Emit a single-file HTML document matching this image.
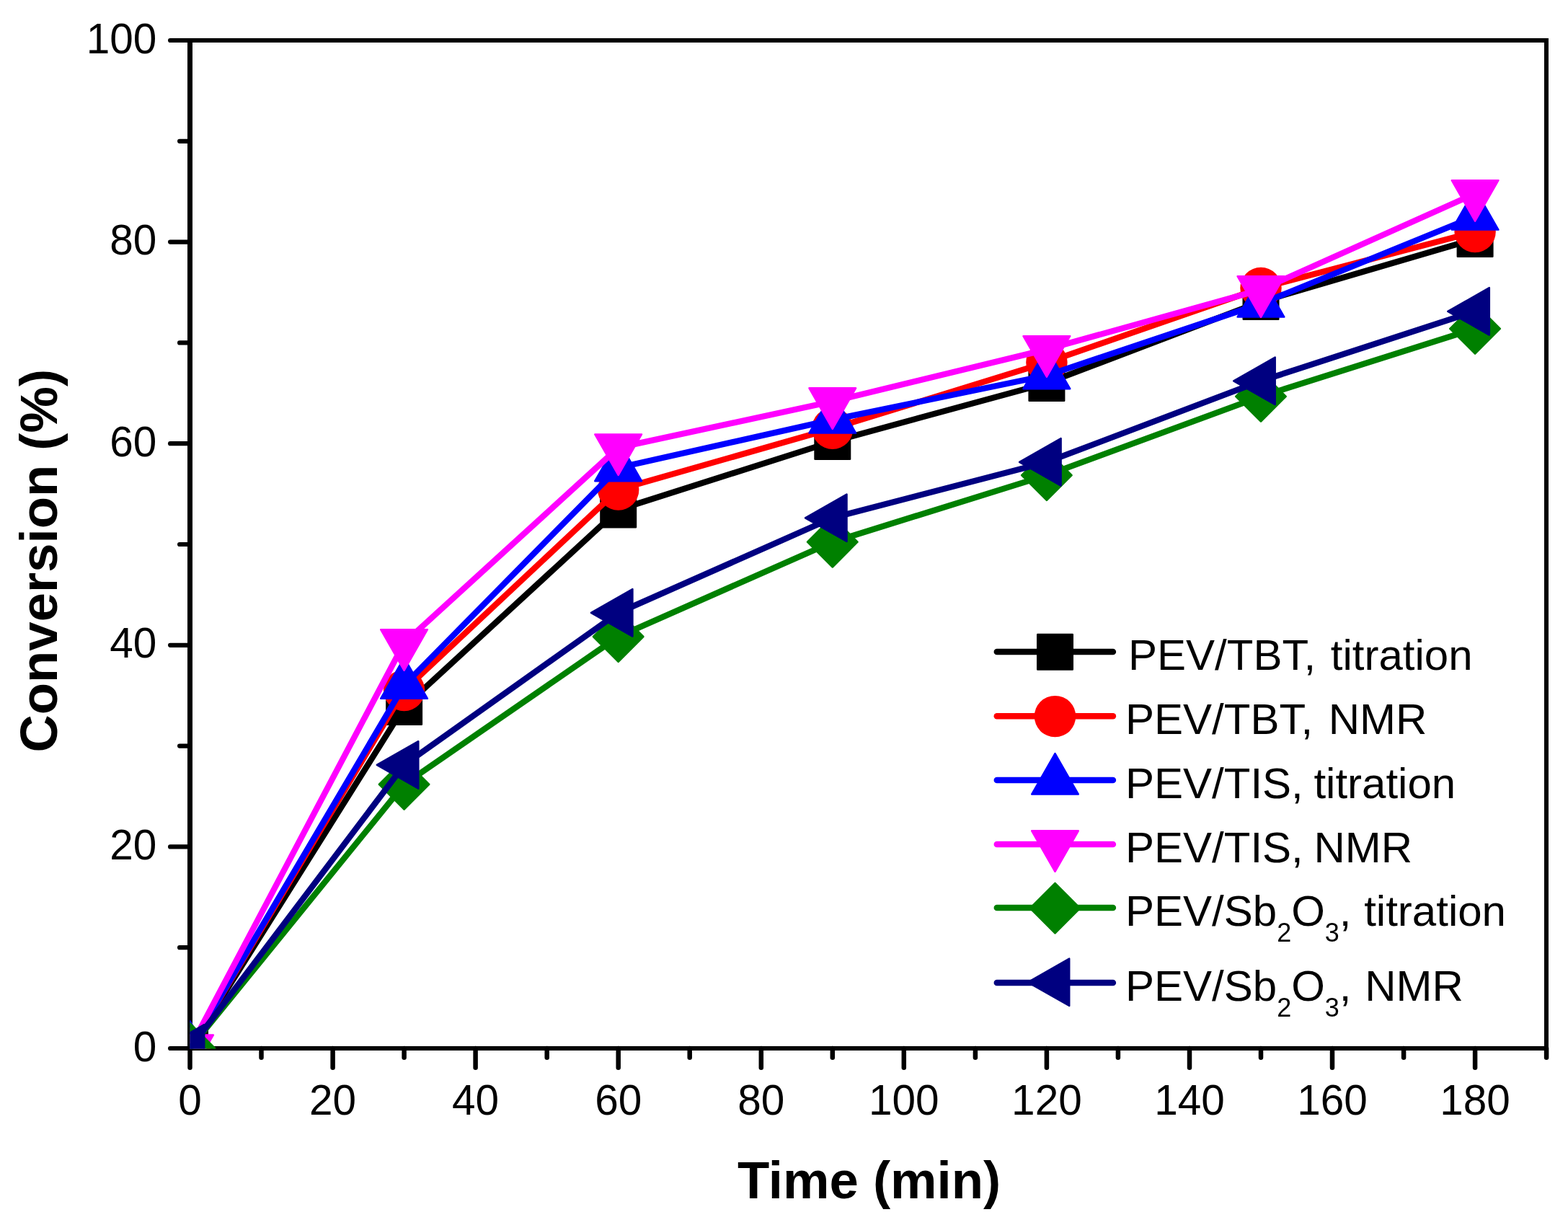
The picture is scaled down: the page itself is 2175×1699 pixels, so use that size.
<!DOCTYPE html>
<html><head><meta charset="utf-8"><title>Conversion vs time</title><style>
html,body{margin:0;padding:0;background:#fff;overflow:hidden;}
svg{display:block;}
</style></head><body>
<svg width="2175" height="1699" viewBox="0 0 2175 1699">
<rect width="2175" height="1699" fill="#fff"/>
<g stroke="#000" fill="none"><line x1="263.5" y1="56" x2="2148" y2="56" stroke-width="6"/><line x1="263.5" y1="1454" x2="2148" y2="1454" stroke-width="6"/><line x1="263.5" y1="53" x2="263.5" y2="1457" stroke-width="7"/><line x1="2145" y1="53" x2="2145" y2="1457" stroke-width="6"/><line x1="263.5" y1="1454" x2="263.5" y2="1480.8" stroke-width="6.5" stroke-linecap="round"/><line x1="362.5" y1="1454" x2="362.5" y2="1466.8" stroke-width="6.5" stroke-linecap="round"/><line x1="461.6" y1="1454" x2="461.6" y2="1480.8" stroke-width="6.5" stroke-linecap="round"/><line x1="560.6" y1="1454" x2="560.6" y2="1466.8" stroke-width="6.5" stroke-linecap="round"/><line x1="659.6" y1="1454" x2="659.6" y2="1480.8" stroke-width="6.5" stroke-linecap="round"/><line x1="758.7" y1="1454" x2="758.7" y2="1466.8" stroke-width="6.5" stroke-linecap="round"/><line x1="857.7" y1="1454" x2="857.7" y2="1480.8" stroke-width="6.5" stroke-linecap="round"/><line x1="956.7" y1="1454" x2="956.7" y2="1466.8" stroke-width="6.5" stroke-linecap="round"/><line x1="1055.8" y1="1454" x2="1055.8" y2="1480.8" stroke-width="6.5" stroke-linecap="round"/><line x1="1154.8" y1="1454" x2="1154.8" y2="1466.8" stroke-width="6.5" stroke-linecap="round"/><line x1="1253.8" y1="1454" x2="1253.8" y2="1480.8" stroke-width="6.5" stroke-linecap="round"/><line x1="1352.9" y1="1454" x2="1352.9" y2="1466.8" stroke-width="6.5" stroke-linecap="round"/><line x1="1451.9" y1="1454" x2="1451.9" y2="1480.8" stroke-width="6.5" stroke-linecap="round"/><line x1="1550.9" y1="1454" x2="1550.9" y2="1466.8" stroke-width="6.5" stroke-linecap="round"/><line x1="1650.0" y1="1454" x2="1650.0" y2="1480.8" stroke-width="6.5" stroke-linecap="round"/><line x1="1749.0" y1="1454" x2="1749.0" y2="1466.8" stroke-width="6.5" stroke-linecap="round"/><line x1="1848.0" y1="1454" x2="1848.0" y2="1480.8" stroke-width="6.5" stroke-linecap="round"/><line x1="1947.1" y1="1454" x2="1947.1" y2="1466.8" stroke-width="6.5" stroke-linecap="round"/><line x1="2046.1" y1="1454" x2="2046.1" y2="1480.8" stroke-width="6.5" stroke-linecap="round"/><line x1="2145.1" y1="1454" x2="2145.1" y2="1466.8" stroke-width="6.5" stroke-linecap="round"/><line x1="263.5" y1="1454.0" x2="236.1" y2="1454.0" stroke-width="6.2" stroke-linecap="round"/><line x1="263.5" y1="1314.2" x2="249.1" y2="1314.2" stroke-width="6.2" stroke-linecap="round"/><line x1="263.5" y1="1174.4" x2="236.1" y2="1174.4" stroke-width="6.2" stroke-linecap="round"/><line x1="263.5" y1="1034.6" x2="249.1" y2="1034.6" stroke-width="6.2" stroke-linecap="round"/><line x1="263.5" y1="894.8" x2="236.1" y2="894.8" stroke-width="6.2" stroke-linecap="round"/><line x1="263.5" y1="755.0" x2="249.1" y2="755.0" stroke-width="6.2" stroke-linecap="round"/><line x1="263.5" y1="615.2" x2="236.1" y2="615.2" stroke-width="6.2" stroke-linecap="round"/><line x1="263.5" y1="475.4" x2="249.1" y2="475.4" stroke-width="6.2" stroke-linecap="round"/><line x1="263.5" y1="335.6" x2="236.1" y2="335.6" stroke-width="6.2" stroke-linecap="round"/><line x1="263.5" y1="195.8" x2="249.1" y2="195.8" stroke-width="6.2" stroke-linecap="round"/><line x1="263.5" y1="56.0" x2="236.1" y2="56.0" stroke-width="6.2" stroke-linecap="round"/></g><g font-family="&apos;Liberation Sans&apos;, sans-serif" font-size="58.5" fill="#000"><text x="263.5" y="1545.8" text-anchor="middle">0</text><text x="461.6" y="1545.8" text-anchor="middle">20</text><text x="659.6" y="1545.8" text-anchor="middle">40</text><text x="857.7" y="1545.8" text-anchor="middle">60</text><text x="1055.8" y="1545.8" text-anchor="middle">80</text><text x="1253.8" y="1545.8" text-anchor="middle">100</text><text x="1451.9" y="1545.8" text-anchor="middle">120</text><text x="1650.0" y="1545.8" text-anchor="middle">140</text><text x="1848.0" y="1545.8" text-anchor="middle">160</text><text x="2046.1" y="1545.8" text-anchor="middle">180</text><text x="217.3" y="1471.5" text-anchor="end">0</text><text x="217.3" y="1191.9" text-anchor="end">20</text><text x="217.3" y="912.3" text-anchor="end">40</text><text x="217.3" y="632.7" text-anchor="end">60</text><text x="217.3" y="353.1" text-anchor="end">80</text><text x="217.3" y="73.5" text-anchor="end">100</text></g><text x="1022.9" y="1662" font-family="&apos;Liberation Sans&apos;, sans-serif" font-weight="bold" font-size="72.5">Time (min)</text><text transform="translate(79,1043.6) rotate(-90)" font-family="&apos;Liberation Sans&apos;, sans-serif" font-weight="bold" font-size="72.5">Conversion (%)</text><defs><clipPath id="c"><rect x="263.5" y="56" width="1881.5" height="1398.5"/></clipPath></defs><g clip-path="url(#c)"><polyline points="263.5,1454.0 560.6,980.5 857.7,707.0 1154.8,612.4 1451.9,531.4 1749.0,418.4 2046.1,331.4" fill="none" stroke="#000000" stroke-width="8.3" stroke-linejoin="round"/><rect x="239.25" y="1429.75" width="48.5" height="48.5" fill="#000000" stroke="#000000" stroke-width="2.5" stroke-linejoin="round"/><rect x="536.35" y="956.25" width="48.5" height="48.5" fill="#000000" stroke="#000000" stroke-width="2.5" stroke-linejoin="round"/><rect x="833.45" y="682.75" width="48.5" height="48.5" fill="#000000" stroke="#000000" stroke-width="2.5" stroke-linejoin="round"/><rect x="1130.55" y="588.15" width="48.5" height="48.5" fill="#000000" stroke="#000000" stroke-width="2.5" stroke-linejoin="round"/><rect x="1427.65" y="507.15" width="48.5" height="48.5" fill="#000000" stroke="#000000" stroke-width="2.5" stroke-linejoin="round"/><rect x="1724.75" y="394.15" width="48.5" height="48.5" fill="#000000" stroke="#000000" stroke-width="2.5" stroke-linejoin="round"/><rect x="2021.85" y="307.15" width="48.5" height="48.5" fill="#000000" stroke="#000000" stroke-width="2.5" stroke-linejoin="round"/><polyline points="263.5,1454.0 560.6,957.5 857.7,679.0 1154.8,594.3 1451.9,502.6 1749.0,399.5 2046.1,321.5" fill="none" stroke="#ff0000" stroke-width="8.3" stroke-linejoin="round"/><circle cx="263.50" cy="1454.00" r="28.7" fill="#ff0000"/><circle cx="560.60" cy="957.50" r="28.7" fill="#ff0000"/><circle cx="857.70" cy="679.00" r="28.7" fill="#ff0000"/><circle cx="1154.80" cy="594.30" r="28.7" fill="#ff0000"/><circle cx="1451.90" cy="502.60" r="28.7" fill="#ff0000"/><circle cx="1749.00" cy="399.50" r="28.7" fill="#ff0000"/><circle cx="2046.10" cy="321.50" r="28.7" fill="#ff0000"/><polyline points="263.5,1454.0 560.6,950.3 857.7,648.8 1154.8,582.1 1451.9,520.8 1749.0,421.2 2046.1,300.1" fill="none" stroke="#0000ff" stroke-width="8.3" stroke-linejoin="round"/><polygon points="263.5,1416.0 295.9,1472.5 231.2,1472.5" fill="#0000ff" stroke="#0000ff" stroke-width="2.5" stroke-linejoin="round"/><polygon points="560.6,912.2 592.9,968.8 528.2,968.8" fill="#0000ff" stroke="#0000ff" stroke-width="2.5" stroke-linejoin="round"/><polygon points="857.7,610.8 890.0,667.2 825.3,667.2" fill="#0000ff" stroke="#0000ff" stroke-width="2.5" stroke-linejoin="round"/><polygon points="1154.8,544.1 1187.1,600.6 1122.5,600.6" fill="#0000ff" stroke="#0000ff" stroke-width="2.5" stroke-linejoin="round"/><polygon points="1451.9,482.7 1484.2,539.2 1419.5,539.2" fill="#0000ff" stroke="#0000ff" stroke-width="2.5" stroke-linejoin="round"/><polygon points="1749.0,383.1 1781.3,439.6 1716.6,439.6" fill="#0000ff" stroke="#0000ff" stroke-width="2.5" stroke-linejoin="round"/><polygon points="2046.1,262.1 2078.4,318.6 2013.8,318.6" fill="#0000ff" stroke="#0000ff" stroke-width="2.5" stroke-linejoin="round"/><polyline points="263.5,1454.0 560.6,891.7 857.7,620.9 1154.8,556.8 1451.9,484.6 1749.0,401.7 2046.1,268.6" fill="none" stroke="#ff00ff" stroke-width="8.3" stroke-linejoin="round"/><polygon points="263.5,1492.0 295.9,1435.5 231.2,1435.5" fill="#ff00ff" stroke="#ff00ff" stroke-width="2.5" stroke-linejoin="round"/><polygon points="560.6,929.8 592.9,873.2 528.2,873.2" fill="#ff00ff" stroke="#ff00ff" stroke-width="2.5" stroke-linejoin="round"/><polygon points="857.7,658.9 890.0,602.4 825.3,602.4" fill="#ff00ff" stroke="#ff00ff" stroke-width="2.5" stroke-linejoin="round"/><polygon points="1154.8,594.8 1187.1,538.3 1122.5,538.3" fill="#ff00ff" stroke="#ff00ff" stroke-width="2.5" stroke-linejoin="round"/><polygon points="1451.9,522.6 1484.2,466.2 1419.5,466.2" fill="#ff00ff" stroke="#ff00ff" stroke-width="2.5" stroke-linejoin="round"/><polygon points="1749.0,439.8 1781.3,383.2 1716.6,383.2" fill="#ff00ff" stroke="#ff00ff" stroke-width="2.5" stroke-linejoin="round"/><polygon points="2046.1,306.7 2078.4,250.2 2013.8,250.2" fill="#ff00ff" stroke="#ff00ff" stroke-width="2.5" stroke-linejoin="round"/><polyline points="263.5,1454.0 560.6,1087.9 857.7,883.0 1154.8,751.7 1451.9,659.1 1749.0,549.8 2046.1,455.9" fill="none" stroke="#008000" stroke-width="8.3" stroke-linejoin="round"/><polygon points="263.5,1419.2 298.2,1454.0 263.5,1488.8 228.8,1454.0" fill="#008000" stroke="#008000" stroke-width="2.5" stroke-linejoin="round"/><polygon points="560.6,1053.2 595.3,1087.9 560.6,1122.7 525.8,1087.9" fill="#008000" stroke="#008000" stroke-width="2.5" stroke-linejoin="round"/><polygon points="857.7,848.2 892.4,883.0 857.7,917.8 822.9,883.0" fill="#008000" stroke="#008000" stroke-width="2.5" stroke-linejoin="round"/><polygon points="1154.8,717.0 1189.5,751.7 1154.8,786.5 1120.0,751.7" fill="#008000" stroke="#008000" stroke-width="2.5" stroke-linejoin="round"/><polygon points="1451.9,624.4 1486.6,659.1 1451.9,693.9 1417.1,659.1" fill="#008000" stroke="#008000" stroke-width="2.5" stroke-linejoin="round"/><polygon points="1749.0,515.0 1783.7,549.8 1749.0,584.5 1714.2,549.8" fill="#008000" stroke="#008000" stroke-width="2.5" stroke-linejoin="round"/><polygon points="2046.1,421.1 2080.8,455.9 2046.1,490.6 2011.3,455.9" fill="#008000" stroke="#008000" stroke-width="2.5" stroke-linejoin="round"/><polyline points="263.5,1454.0 560.6,1060.9 857.7,849.9 1154.8,718.3 1451.9,640.9 1749.0,528.4 2046.1,431.8" fill="none" stroke="#000080" stroke-width="8.3" stroke-linejoin="round"/><polygon points="225.8,1454.0 283.2,1421.2 283.2,1486.8" fill="#000080" stroke="#000080" stroke-width="2.5" stroke-linejoin="round"/><polygon points="522.8,1060.9 580.3,1028.2 580.3,1093.7" fill="#000080" stroke="#000080" stroke-width="2.5" stroke-linejoin="round"/><polygon points="819.9,849.9 877.4,817.1 877.4,882.6" fill="#000080" stroke="#000080" stroke-width="2.5" stroke-linejoin="round"/><polygon points="1117.0,718.3 1174.5,685.5 1174.5,751.0" fill="#000080" stroke="#000080" stroke-width="2.5" stroke-linejoin="round"/><polygon points="1414.1,640.9 1471.6,608.1 1471.6,673.6" fill="#000080" stroke="#000080" stroke-width="2.5" stroke-linejoin="round"/><polygon points="1711.2,528.4 1768.7,495.6 1768.7,561.1" fill="#000080" stroke="#000080" stroke-width="2.5" stroke-linejoin="round"/><polygon points="2008.3,431.8 2065.8,399.1 2065.8,464.6" fill="#000080" stroke="#000080" stroke-width="2.5" stroke-linejoin="round"/></g><g><line x1="1382.8" y1="904" x2="1543.9" y2="904" stroke="#000000" stroke-width="8.5" stroke-linecap="round"/><rect x="1439.25" y="880.05" width="48.5" height="48.5" fill="#000000" stroke="#000000" stroke-width="2.5" stroke-linejoin="round"/><text x="1565" y="929" font-family="&apos;Liberation Sans&apos;, sans-serif" font-size="60">PEV/TBT,<tspan dx="4"> titration</tspan></text><line x1="1382.8" y1="993.3" x2="1543.9" y2="993.3" stroke="#ff0000" stroke-width="8.5" stroke-linecap="round"/><circle cx="1463.50" cy="993.60" r="28.7" fill="#ff0000"/><text x="1561" y="1018" font-family="&apos;Liberation Sans&apos;, sans-serif" font-size="60">PEV/TBT,<tspan dx="5"> NMR</tspan></text><line x1="1382.8" y1="1081.9" x2="1543.9" y2="1081.9" stroke="#0000ff" stroke-width="8.5" stroke-linecap="round"/><polygon points="1463.5,1045.0 1495.8,1101.5 1431.2,1101.5" fill="#0000ff" stroke="#0000ff" stroke-width="2.5" stroke-linejoin="round"/><text x="1561" y="1107" font-family="&apos;Liberation Sans&apos;, sans-serif" font-size="60">PEV/TIS,<tspan dx="-2"> titration</tspan></text><line x1="1382.8" y1="1171" x2="1543.9" y2="1171" stroke="#ff00ff" stroke-width="8.5" stroke-linecap="round"/><polygon points="1463.5,1208.8 1495.8,1152.3 1431.2,1152.3" fill="#ff00ff" stroke="#ff00ff" stroke-width="2.5" stroke-linejoin="round"/><text x="1561" y="1196" font-family="&apos;Liberation Sans&apos;, sans-serif" font-size="60">PEV/TIS,<tspan dx="-2"> NMR</tspan></text><line x1="1382.8" y1="1258.9" x2="1543.9" y2="1258.9" stroke="#008000" stroke-width="8.5" stroke-linecap="round"/><polygon points="1463.5,1224.8 1498.2,1259.6 1463.5,1294.3 1428.8,1259.6" fill="#008000" stroke="#008000" stroke-width="2.5" stroke-linejoin="round"/><text x="1561" y="1284" font-family="&apos;Liberation Sans&apos;, sans-serif" font-size="60">PEV/Sb<tspan dy="22" font-size="36">2</tspan><tspan dy="-22">O</tspan><tspan dy="22" font-size="36">3</tspan><tspan dy="-22">,<tspan dx="1"> titration</tspan></tspan></text><line x1="1382.8" y1="1363" x2="1543.9" y2="1363" stroke="#000080" stroke-width="8.5" stroke-linecap="round"/><polygon points="1425.8,1362.3 1483.2,1329.5 1483.2,1395.0" fill="#000080" stroke="#000080" stroke-width="2.5" stroke-linejoin="round"/><text x="1561" y="1388" font-family="&apos;Liberation Sans&apos;, sans-serif" font-size="60">PEV/Sb<tspan dy="22" font-size="36">2</tspan><tspan dy="-22">O</tspan><tspan dy="22" font-size="36">3</tspan><tspan dy="-22">,<tspan dx="2"> NMR</tspan></tspan></text></g>
</svg>
</body></html>
